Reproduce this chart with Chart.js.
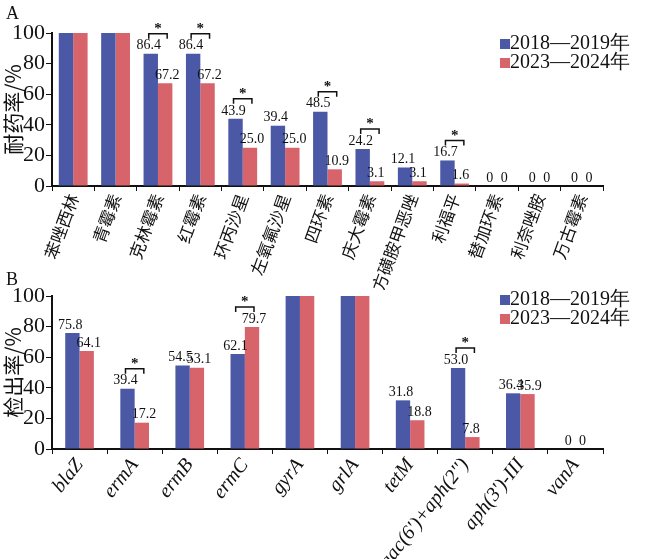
<!DOCTYPE html>
<html><head><meta charset="utf-8">
<script src="https://cdn.jsdelivr.net/npm/chart.js@4"></script>
<style>
body{margin:0;background:#fff;width:654px;height:559px;position:relative;overflow:hidden}
canvas{position:absolute;left:0}
#ca{top:0}#cb{top:270px}
</style></head><body>
<canvas id="ca"></canvas><canvas id="cb"></canvas>
<script>
const catsA = ["苯唑西林","青霉素","克林霉素","红霉素","环丙沙星","左氧氟沙星","四环素","庆大霉素","复方磺胺甲恶唑","利福平","替加环素","利奈唑胺","万古霉素"];
const a2018 = [100,100,86.4,86.4,43.9,39.4,48.5,24.2,12.1,16.7,0,0,0];
const a2023 = [100,100,67.2,67.2,25.0,25.0,10.9,3.1,3.1,1.6,0,0,0];
const sigA = [2,3,4,6,7,9];
const catsB = ["blaZ","ermA","ermB","ermC","gyrA","grlA","tetM","aac(6')+aph(2'')","aph(3')-III","vanA"];
const b2018 = [75.8,39.4,54.5,62.1,100,100,31.8,53.0,36.4,0];
const b2023 = [64.1,17.2,53.1,79.7,100,100,18.8,7.8,35.9,0];
const sigB = [1,3,7];
const yTicks = [0,20,40,60,80,100];

const BLUE = "#4b58a6", RED = "#d8646b";
const SERIF = "'Liberation Serif','DejaVu Serif',serif";
const CJK = "'Noto Sans CJK SC',sans-serif";

const annot = {
  id: "annot",
  afterDatasetsDraw(chart, args, opts) {
    const ctx = chart.ctx;
    ctx.save();
    ctx.fillStyle = "#111"; ctx.strokeStyle = "#111";
    ctx.font = "14px " + SERIF; ctx.textBaseline = "bottom";
    const m0 = chart.getDatasetMeta(0).data, m1 = chart.getDatasetMeta(1).data;
    chart.data.datasets.forEach((ds, di) => {
      const meta = chart.getDatasetMeta(di).data;
      ds.data.forEach((v, i) => {
        if (v >= 100) return;
        const lbl = v === 0 ? "0" : v.toFixed(1);
        if (v === 0) { ctx.textAlign = "center"; ctx.fillText(lbl, meta[i].x, meta[i].y - 1); return; }
        ctx.textAlign = di === 0 ? "right" : "left";
        const x = di === 0 ? meta[i].x + meta[i].width / 2 + 3 : meta[i].x - meta[i].width / 2 - 3;
        ctx.fillText(lbl, x, meta[i].y - 1);
      });
    });
    ctx.textAlign = "center";
    opts.sig.forEach(i => {
      const top = Math.min(m0[i].y, m1[i].y) - 20;
      ctx.lineWidth = 1.5;
      ctx.beginPath();
      ctx.moveTo(m0[i].x - 2, top + 5); ctx.lineTo(m0[i].x - 2, top);
      ctx.lineTo(m1[i].x + 2, top); ctx.lineTo(m1[i].x + 2, top + 5);
      ctx.stroke();
      ctx.font = "bold 15px " + SERIF;
      ctx.fillText("*", (m0[i].x + m1[i].x) / 2, top + 3);
      ctx.font = "14px " + SERIF;
    });
    ctx.textAlign = "left"; ctx.textBaseline = "middle";
    [["2018—2019年", BLUE], ["2023—2024年", RED]].forEach(([t, c], k) => {
      const ly = opts.legY + k * 19;
      ctx.fillStyle = c; ctx.fillRect(500, ly - 5, 10, 10);
      ctx.fillStyle = "#111"; ctx.font = "20px " + SERIF;
      ctx.fillText(t, 510, ly);
    });
    ctx.font = "18px " + SERIF; ctx.fillText(opts.letter, 6, opts.letY);
    ctx.restore();
  }
};

function makeChart(el, h, cats, d1, d2, top, bottomH, catPct, rot, tickFont, title, sig, letter, legY, letY) {
  el.width = 654; el.height = h;
  el.style.width = "654px"; el.style.height = h + "px";
  return new Chart(el, {
    type: "bar",
    data: { labels: cats, datasets: [
      { label: "2018—2019年", data: d1, backgroundColor: BLUE, categoryPercentage: catPct, barPercentage: 1 },
      { label: "2023—2024年", data: d2, backgroundColor: RED, categoryPercentage: catPct, barPercentage: 1 }
    ]},
    options: {
      responsive: false, animation: false, devicePixelRatio: 1,
      layout: { padding: { top: top, right: 51, left: 0, bottom: 0 } },
      plugins: { legend: { display: false }, tooltip: { enabled: false }, annot: { sig, letter, legY, letY } },
      scales: {
        x: {
          grid: { display: true, drawOnChartArea: false, color: "#111", tickLength: 5, offset: true },
          border: { color: "#111", width: 2 },
          ticks: { color: "#111", font: tickFont, minRotation: rot, maxRotation: rot, autoSkip: false, padding: 0 },
          afterFit(s) { s.height = bottomH; }
        },
        y: {
          min: 0, max: 100,
          afterBuildTicks(s) { s.ticks = yTicks.map(v => ({ value: v })); },
          grid: { display: true, drawOnChartArea: false, color: "#111", tickLength: 6 },
          border: { color: "#111", width: 2 },
          ticks: { color: "#111", font: { family: SERIF, size: 22 }, padding: 1 },
          title: { display: true, text: title, color: "#111", font: { family: CJK, size: 21 }, padding: 0 },
          afterFit(s) { s.width = 52; }
        }
      }
    },
    plugins: [annot]
  });
}

makeChart(document.getElementById("ca"), 290, catsA, a2018, a2023, 33, 104, 0.68, 70,
  { family: CJK, size: 17 }, "耐药率/%", sigA, "A", 44, 14);
makeChart(document.getElementById("cb"), 289, catsB, b2018, b2023, 26, 110, 0.52, 52,
  { family: SERIF, size: 20, style: "italic" }, "检出率/%", sigB, "B", 30, 10);
</script>
</body></html>
